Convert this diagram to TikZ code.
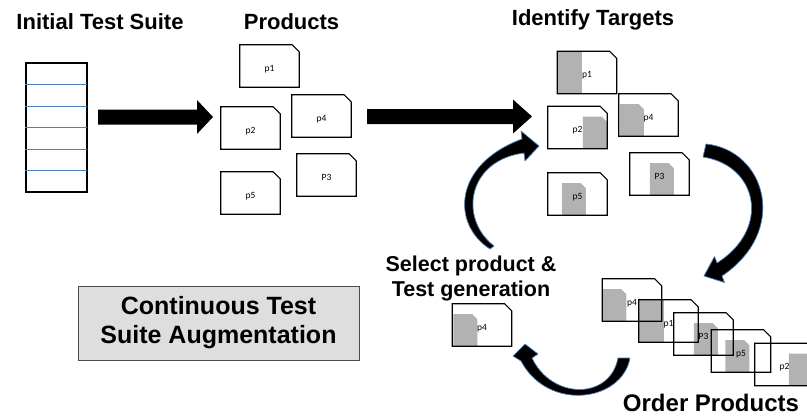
\documentclass[tikz,border=0pt]{standalone}
\usepackage{fontspec}
\setmainfont{Liberation Sans}
\newfontfamily\cardfont{Carlito}
\usetikzlibrary{calc,backgrounds}

% product card: box with the top right corner cut off
\newcommand\cardedge[1]{%
  \draw[outline] (#1.south west) -- (#1.north west) -- ($(#1.north east)+(-7pt,0)$)
    -- ($(#1.north east)+(0,-7pt)$) -- (#1.south east) -- cycle;}
% grey target patch, #2 = offset from the left side of the card
\newcommand\patch[2]{%
  \fill[hit] ($(#1.south west)+(#2pt,0)$) -- ++(0,32pt) -- ++(19pt,0) -- ++(5pt,-5pt) -- ++(0,-27pt) -- cycle;}
\newcommand\strip[1]{\fill[hit] (#1.south west) rectangle ($(#1.north west)+(25pt,0)$);}
% fat straight arrow from #1 to #2, head length #3
\newcommand\blockarrow[3]{%
  \fill ($(#1)+(0,7.5pt)$) -- ($(#2)+(-#3pt,7.5pt)$) -- ($(#2)+(-#3pt,17pt)$) -- (#2)
    -- ($(#2)+(-#3pt,-17pt)$) -- ($(#2)+(-#3pt,-7.5pt)$) -- ($(#1)+(0,-7.5pt)$) -- cycle;}

\begin{document}
\begin{tikzpicture}[x=1pt, y=-1pt,
    heading/.style={font=\fontsize{22}{26}\selectfont\bfseries, inner sep=0pt},
    card/.style={minimum width=59pt, minimum height=42pt, inner sep=0pt, text height=10pt, text depth=0pt,
      font=\cardfont\fontsize{9.5}{11}\selectfont},
    outline/.style={line width=1.2pt, line join=miter},
    hit/.style={fill=black!30},
    row/.style={draw={rgb,255:red,79;green,129;blue,189}, line width=1.4pt},
    swoop/.style={fill=black, draw={rgb,255:red,79;green,129;blue,189}, line width=0.7pt, line join=round},
    panel/.style={draw=black!70, fill=black!13, line width=0.8pt, align=center, inner sep=0pt,
      minimum width=281pt, minimum height=74pt, font=\fontsize{25}{29}\selectfont\bfseries}]
  \useasboundingbox (0,0) rectangle (807,416);

  % titles
  \node[heading, anchor=base] (initial) at (100,29) {Initial Test Suite};
  \node[heading, anchor=base] (products) at (291.5,29) {Products};
  \node[heading, anchor=base] (targets) at (593,25) {Identify Targets};
  \node[heading, align=center, font=\fontsize{21.5}{25}\selectfont\bfseries] (select) at (471,278) {Select product \&\\Test generation};
  \node[heading, anchor=base, font=\fontsize{24}{28}\selectfont\bfseries] (order) at (711,411) {Order Products};
  \node[panel] (goal) at (218.5,323) {Continuous Test\\Suite Augmentation};

  % test suite
  \node[draw, line width=1.3pt, minimum width=61pt, minimum height=129pt] (suite) at (56.5,127.5) {};
  \foreach \d in {22,44,65,87,108}
    \draw[row] ($(suite.north west)+(0,-\d pt)$) -- ++(62pt,0);

  % cards: a = products, b = targets, c = ordered, s = selected
  \foreach \n/\lab/\x/\y in {a1/p1/269.5/66, a2/p2/250.5/128, a4/p4/321.5/116, a3/P3/326.5/175, a5/p5/250.5/193,
      b1/p1/587/72.5, b2/p2/577.5/127.5, b4/p4/648.5/115, b3/P3/659.5/174, b5/p5/577.5/194,
      c4/p4/632/300, c1/p1/668.5/321, c3/P3/703.5/334, c5/p5/741/351, c2/p2/784.5/364.5,
      s4/p4/482/325}
  {
    \node[card] (\n) at (\x,\y) {\lab};
    \cardedge{\n}
  }
  \begin{scope}[on background layer]
    \foreach \n in {b1,c1} \strip{\n};
    \foreach \n/\o in {b2/35, b4/1, b3/20, b5/14, c4/0, c3/20, c5/14, c2/34, s4/1}
      \patch{\n}{\o};
  \end{scope}

  % straight arrows
  \coordinate (t1) at (98,117);
  \coordinate (h1) at (213,117);
  \coordinate (t2) at (367,116.5);
  \coordinate (h2) at (532,116.5);
  \blockarrow{t1}{h1}{16}
  \blockarrow{t2}{h2}{19}

  % the loop
  \draw[swoop] (490,249) .. controls (452,225) and (452,165) .. (522,139) -- (521,131) -- (539,146)
    -- (525,161) -- (524,153) .. controls (468,160) and (458,218) .. (494,246) -- cycle;
  \draw[swoop] (706,144) .. controls (765,150) and (790,230) .. (722,276) -- (724.5,282.5) -- (704,276)
    -- (714.5,256.5) -- (717,263) .. controls (772,228) and (757,165) .. (703,157) -- cycle;
  \draw[swoop] (630,358) .. controls (622,402) and (548,412) .. (521,361) -- (513,356) -- (525,344)
    -- (538,354) -- (532,358) .. controls (552,400) and (610,400) .. (618,358) -- cycle;
\end{tikzpicture}
\end{document}
